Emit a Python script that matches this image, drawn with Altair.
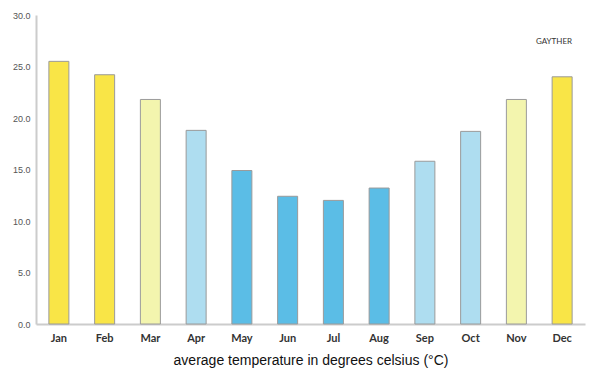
import altair as alt
import pandas as pd

months = ["Jan", "Feb", "Mar", "Apr", "May", "Jun", "Jul", "Aug", "Sep", "Oct", "Nov", "Dec"]
temps = [25.5, 24.2, 21.8, 18.8, 14.9, 12.4, 12.0, 13.2, 15.8, 18.7, 21.8, 24.0]
bands = ["hot", "hot", "warm", "mild", "cool", "cool", "cool", "cool", "mild", "mild", "warm", "hot"]
band_names = ["hot", "warm", "mild", "cool"]
band_colors = ["#F9E547", "#F3F5AE", "#AEDDF0", "#5BBDE6"]
y_ticks = [0, 5, 10, 15, 20, 25, 30]

df = pd.DataFrame({"month": months, "temp": temps, "band": bands})

bars = alt.Chart(df).mark_bar(size=20, stroke="#9a9a9a", strokeWidth=1).encode(
    x=alt.X("month:N", sort=months,
            scale=alt.Scale(paddingInner=0, paddingOuter=0),
            axis=alt.Axis(title="average temperature in degrees celsius (°C)",
                          labelAngle=0, ticks=False, labelPadding=8,
                          labelFont="Lato", labelFontWeight="bold", labelFontSize=11,
                          labelColor="#333333", domainColor="#cccccc", domainWidth=2,
                          titleFont="Liberation Sans", titleFontSize=14,
                          titleFontWeight="normal", titleColor="#111111",
                          titlePadding=10)),
    y=alt.Y("temp:Q", scale=alt.Scale(domain=[0, 30]),
            axis=alt.Axis(title=None, format=".1f", values=y_ticks, labelOverlap=False,
                          ticks=False, grid=False, labelPadding=6,
                          labelFont="Liberation Sans", labelFontSize=9, labelColor="#555555",
                          domainColor="#cccccc", domainWidth=2)),
    color=alt.Color("band:N", scale=alt.Scale(domain=band_names, range=band_colors), legend=None),
)

logo = alt.Chart(pd.DataFrame({"t": ["GAYTHER"]})).mark_text(
    font="Lato", fontSize=8, color="#333333"
).encode(x=alt.value(518), y=alt.value(27), text="t:N")

chart = alt.layer(bars, logo).properties(
    width=549, height=309,
    autosize=alt.AutoSizeParams(type="none"),
    padding={"left": 36, "top": 15, "right": 15, "bottom": 51},
).configure_view(stroke=None)

chart.save("out.html", embed_options={"renderer": "svg", "actions": False})
